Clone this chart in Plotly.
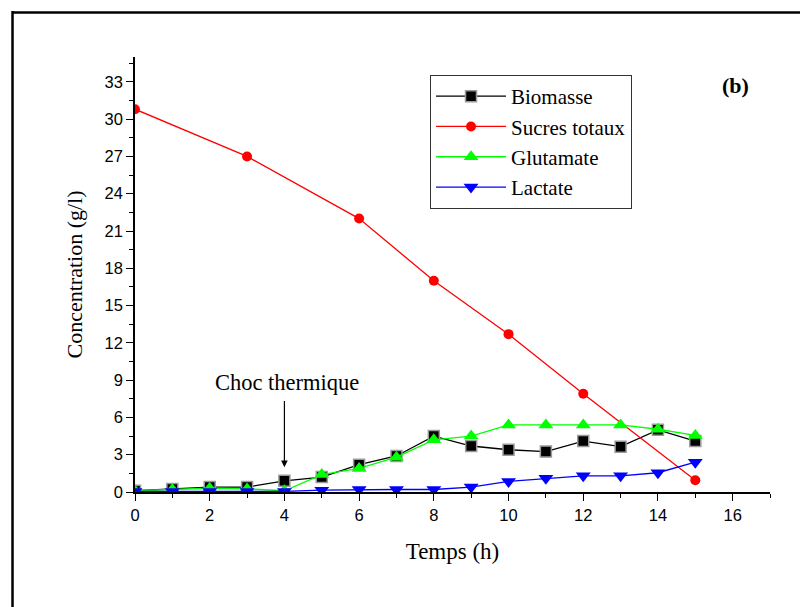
import plotly.graph_objects as go

temps = [0, 1, 2, 3, 4, 5, 6, 7, 8, 9, 10, 11, 12, 13, 14, 15]
biomasse = [0.1, 0.25, 0.4, 0.4, 0.9, 1.2, 2.2, 2.9, 4.5, 3.7, 3.4, 3.25, 4.1, 3.65, 5.0, 4.1]
glutamate = [0.1, 0.2, 0.3, 0.25, 0.1, 1.4, 1.9, 2.8, 4.2, 4.5, 5.4, 5.4, 5.4, 5.4, 5.05, 4.55]
lactate = [0.05, 0.05, 0.05, 0.05, 0.05, 0.15, 0.2, 0.2, 0.2, 0.4, 0.85, 1.1, 1.3, 1.3, 1.55, 2.4]
temps_sucres = [0, 3, 6, 8, 10, 12, 15]
sucres = [30.8, 27.0, 22.0, 17.0, 12.7, 7.9, 0.95]

serif = "Liberation Serif"
sans = "Liberation Sans"

fig = go.Figure()
fig.add_trace(go.Scatter(x=temps, y=biomasse, name="Biomasse", mode="lines+markers",
                         line=dict(color="black", width=1.3),
                         marker=dict(symbol="square", size=11, color="black",
                                     line=dict(color="#9a9a9a", width=1.5))))
fig.add_trace(go.Scatter(x=temps_sucres, y=sucres, name="Sucres totaux", mode="lines+markers",
                         line=dict(color="#ff0000", width=1.3),
                         marker=dict(symbol="circle", size=10, color="#ff0000")))
fig.add_trace(go.Scatter(x=temps, y=glutamate, name="Glutamate", mode="lines+markers",
                         line=dict(color="#00ff00", width=1.3),
                         marker=dict(symbol="triangle-up", size=13, color="#00ff00")))
fig.add_trace(go.Scatter(x=temps, y=lactate, name="Lactate", mode="lines+markers",
                         line=dict(color="#0000ff", width=1.3),
                         marker=dict(symbol="triangle-down", size=13, color="#0000ff")))

# Choc thermique annotation
fig.add_annotation(x=4, y=2.0, ax=4, ay=7.45, xref="x", yref="y", axref="x", ayref="y",
                   text="", showarrow=True, arrowhead=2, arrowsize=1.1, arrowwidth=1.2,
                   arrowcolor="black")
fig.add_annotation(x=4.08, y=8.8, xref="x", yref="y", text="Choc thermique", showarrow=False,
                   font=dict(family=serif, size=22.5, color="black"))
fig.add_annotation(x=16.08, y=32.7, xref="x", yref="y", text="<b>(b)</b>", showarrow=False,
                   font=dict(family=serif, size=22, color="black"))

# outer frame lines (left and top)
fig.add_shape(type="line", xref="paper", yref="paper", x0=-0.1929, x1=-0.1929, y0=1.106, y1=-0.3,
              line=dict(color="black", width=2.5))
fig.add_shape(type="line", xref="paper", yref="paper", x0=-0.1929, x1=1.2, y0=1.1023, y1=1.1023,
              line=dict(color="black", width=2.5))

fig.update_layout(
    width=800, height=599,
    margin=dict(l=127, r=38, t=49, b=115),
    paper_bgcolor="white", plot_bgcolor="white",
    showlegend=True,
    legend=dict(x=0.4646, y=0.9586, xanchor="left", yanchor="top",
                bgcolor="white", bordercolor="#333333", borderwidth=1,
                font=dict(family=serif, size=21, color="black"),
                tracegroupgap=0, itemwidth=70),
    font=dict(family=serif, color="black"),
)
fig.update_xaxes(range=[0, 17], dtick=2, tick0=0, ticks="outside", ticklen=7, tickwidth=1,
                 tickcolor="black", showline=True, linecolor="black", linewidth=1.5,
                 showgrid=False, zeroline=False, mirror=False,
                 minor=dict(dtick=1, ticks="outside", ticklen=4, tickcolor="black"),
                 tickfont=dict(family=sans, size=16.5, color="black"),
                 title=dict(text="Temps (h)", font=dict(family=serif, size=23, color="black"), standoff=20))
fig.update_yaxes(range=[0, 35], dtick=3, tick0=0, ticks="outside", ticklen=7, tickwidth=1,
                 tickcolor="black", showline=True, linecolor="black", linewidth=1.5,
                 showgrid=False, zeroline=False, mirror=False,
                 minor=dict(dtick=1.5, ticks="outside", ticklen=4, tickcolor="black"),
                 tickfont=dict(family=sans, size=16.5, color="black"),
                 title=dict(text="Concentration (g/l)", font=dict(family=serif, size=22, color="black"), standoff=16))

fig.write_html("out.html")
